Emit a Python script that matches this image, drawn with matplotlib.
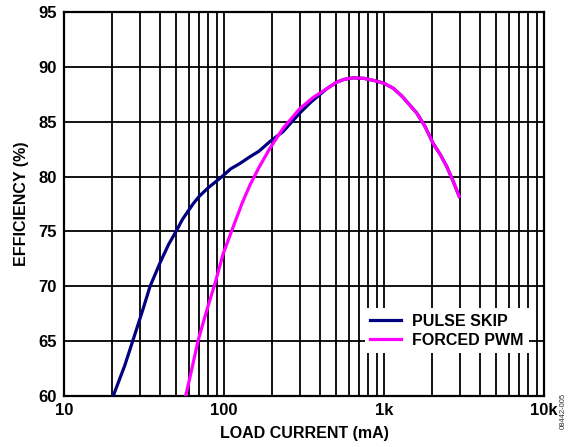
import matplotlib.pyplot as plt
import matplotlib.ticker as mticker
import numpy as np

plt.rcParams['font.family'] = ['Liberation Sans', 'DejaVu Sans']
plt.rcParams['font.weight'] = 'bold'

# load current (mA) and efficiency (%)
skip_x = [20.3, 24, 27, 31, 34.5, 40, 45, 50.6, 55, 64, 70, 80, 90, 99, 110, 126, 145, 165, 194, 234, 298, 350,
          438, 506, 560, 643, 750, 900, 1000, 1143, 1300, 1600, 1800, 2030, 2250, 2470, 2700, 2950]
skip_y = [60.0, 62.8, 65.1, 67.8, 70.0, 72.2, 73.8, 75.1, 76.1, 77.5, 78.2, 79.0, 79.6, 80.1, 80.7, 81.2, 81.8,
          82.3, 83.2, 84.1, 85.8, 86.8, 88.0, 88.6, 88.85, 89.0, 88.95, 88.7, 88.5, 88.05, 87.3, 85.8, 84.6,
          83.0, 82.0, 80.9, 79.6, 78.2]
pwm_x = [57.6, 62.8, 69, 78, 88, 99, 114, 130, 145, 165, 194, 234, 298, 360, 438, 506, 560, 643, 750, 900, 1000,
         1143, 1300, 1600, 1800, 2030, 2250, 2470, 2700, 2950]
pwm_y = [60.0, 62.4, 65.1, 67.8, 70.3, 73.0, 75.4, 77.6, 79.2, 80.8, 82.6, 84.4, 86.2, 87.2, 88.0, 88.6, 88.85,
         89.0, 88.95, 88.7, 88.5, 88.05, 87.3, 85.8, 84.6, 83.0, 82.0, 80.9, 79.6, 78.2]

xticks = [10, 100, 1000, 10000]
xlabels = ['10', '100', '1k', '10k']
yticks = [60, 65, 70, 75, 80, 85, 90, 95]

fig = plt.figure(figsize=(5.68, 4.47), dpi=100)
ax = fig.add_axes([64/568, 51/447, 480/568, 384/447])

ax.plot(skip_x, skip_y, color='#000080', lw=2.3, label='PULSE SKIP', zorder=3)
ax.plot(pwm_x, pwm_y, color='#ff00ff', lw=2.3, label='FORCED PWM', zorder=4)

ax.set_xscale('log')
ax.set_xlim(10, 10000)
ax.set_ylim(60, 95)
ax.set_xticks(xticks)
ax.set_xticklabels(xlabels, fontweight='bold')
ax.xaxis.set_minor_locator(mticker.LogLocator(base=10, subs=np.arange(2, 10)))
ax.xaxis.set_minor_formatter(mticker.NullFormatter())
ax.set_yticks(yticks)
ax.set_yticklabels([str(v) for v in yticks], fontweight='bold')
ax.grid(True, which='both', color='black', lw=1.3)
ax.tick_params(which='both', length=0, labelsize=12, pad=5)
for s in ax.spines.values():
    s.set_linewidth(1.6)

ax.set_xlabel('LOAD CURRENT (mA)', fontsize=11.5, fontweight='bold', labelpad=6)
ax.set_ylabel('EFFICIENCY (%)', fontsize=11.5, fontweight='bold', labelpad=7)

leg = ax.legend(loc='lower right', bbox_to_anchor=(0.985, 0.09), frameon=True,
                fancybox=False, edgecolor='white', framealpha=1, fontsize=11.5,
                handlelength=1.9, handletextpad=0.7, borderpad=0.35, labelspacing=0.25)
leg.get_frame().set_linewidth(0)
for t in leg.get_texts():
    t.set_fontweight('bold')

fig.text(0.997, 0.08, '08442-005', rotation=90, fontsize=5.5, color='#333333',
         fontweight='normal', ha='right', va='center')

fig.savefig('out.png', dpi=100)
